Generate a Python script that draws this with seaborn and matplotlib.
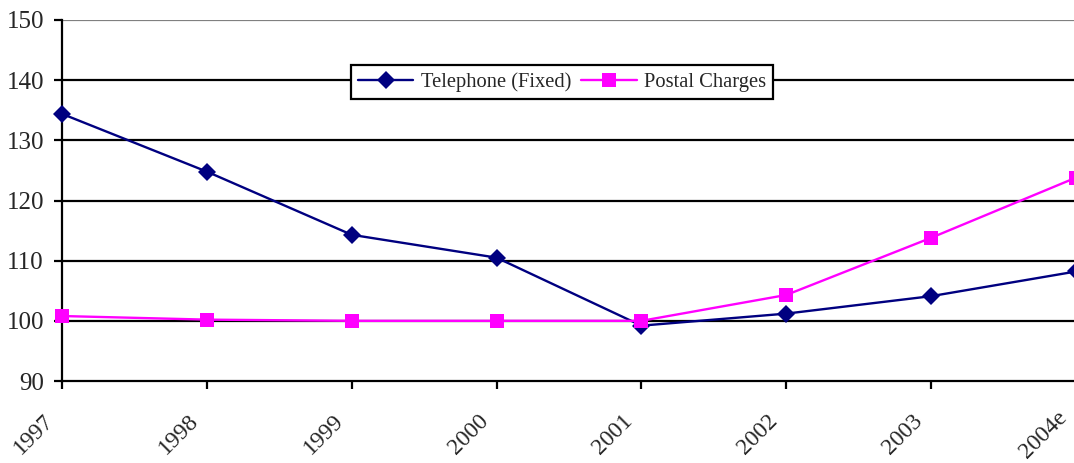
import matplotlib.pyplot as plt
import matplotlib.transforms as mtransforms
import pandas as pd
import seaborn as sns

# values
years = ["1997", "1998", "1999", "2000", "2001", "2002", "2003", "2004e"]
telephone = [134.4, 124.8, 114.3, 110.5, 99.2, 101.2, 104.1, 108.2]
postal = [100.8, 100.2, 100.0, 100.0, 100.0, 104.3, 113.8, 123.8]
series_names = ["Telephone (Fixed)", "Postal Charges"]
y_ticks = [90, 100, 110, 120, 130, 140, 150]

df = pd.DataFrame({
    "year": years * 2,
    "value": telephone + postal,
    "series": [series_names[0]] * len(years) + [series_names[1]] * len(years),
})

sns.set_style("white")
plt.rcParams["font.family"] = ["Liberation Serif", "DejaVu Serif"]

fig = plt.figure(figsize=(10.74, 4.63), dpi=100)
ax = fig.add_axes([62 / 1074, 82 / 463, 1014 / 1074, 361 / 463])

# horizontal gridlines behind the lines
for y in y_ticks[1:]:
    ax.axhline(y, color="#808080" if y == 150 else "black", lw=1.6, zorder=0)

sns.lineplot(data=df, x="year", y="value", hue="series", style="series",
             palette={series_names[0]: "#000080", series_names[1]: "#FF00FF"},
             markers={series_names[0]: "D", series_names[1]: "s"},
             dashes=False, linewidth=1.7, markeredgewidth=0, ax=ax,
             clip_on=False, zorder=3)

marker_sizes = {"D": 8.7, "s": 10.5}
for line in ax.get_lines():
    if line.get_marker() in marker_sizes:
        line.set_markersize(marker_sizes[line.get_marker()])

ax.set_xlim(0, 7)
ax.set_ylim(90, 150)
ax.set_yticks(y_ticks)
ax.set_xlabel("")
ax.set_ylabel("")

for side in ["top", "right"]:
    ax.spines[side].set_visible(False)
for side in ["left", "bottom"]:
    ax.spines[side].set_color("black")
    ax.spines[side].set_linewidth(1.6)

ax.tick_params(axis="both", which="major", direction="out", length=6,
               width=1.6, color="black", labelsize=18, left=True, bottom=True)
ax.tick_params(axis="x", labelsize=17, pad=7.5)
ax.tick_params(axis="y", pad=7)
plt.setp(ax.get_xticklabels(), rotation=45, ha="right", rotation_mode="anchor")

# rotated labels sit down-left of their ticks; the last one is nudged to stay inside
xlabels = ax.get_xticklabels()
for i, lab in enumerate(xlabels):
    dx, dy = (-20, -7) if i == len(xlabels) - 1 else (-19, -11)
    lab.set_transform(lab.get_transform() +
                      mtransforms.ScaledTranslation(dx / 100, dy / 100, fig.dpi_scale_trans))

handles, labels = ax.get_legend_handles_labels()
for h in handles:
    if h.get_marker() in marker_sizes:
        h.set_markersize(marker_sizes[h.get_marker()])
leg = ax.legend(handles, labels, loc="center", bbox_to_anchor=(562 / 1074, 1 - 82 / 463),
                bbox_transform=fig.transFigure, ncol=2, fontsize=14.8, frameon=True,
                fancybox=False, framealpha=1, edgecolor="black", borderpad=0.35,
                handlelength=2.7, handletextpad=0.35, columnspacing=0.5)
leg.get_frame().set_linewidth(1.6)

fig.savefig("out.png", dpi=100)
